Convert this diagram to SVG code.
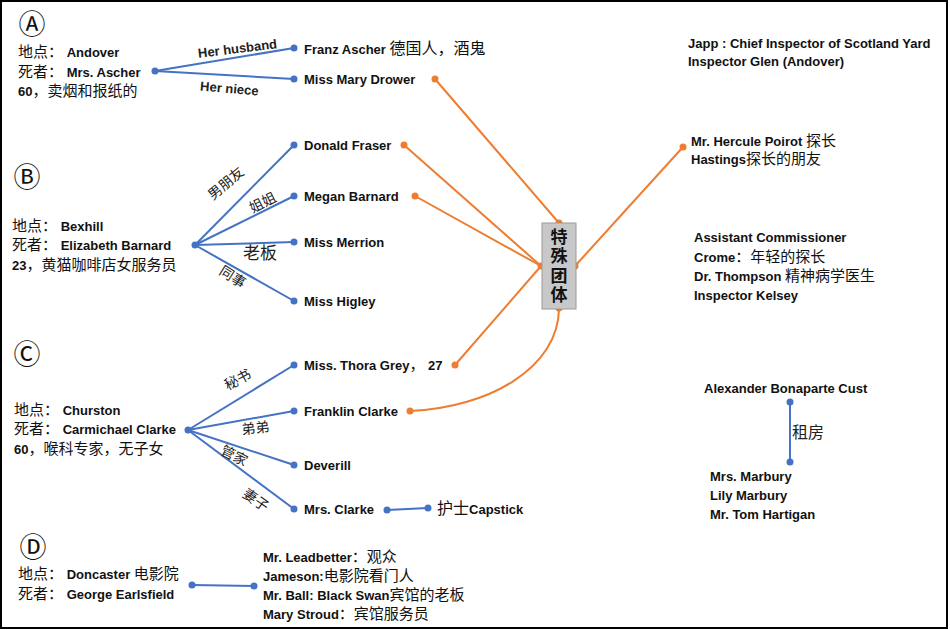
<svg xmlns="http://www.w3.org/2000/svg" width="950" height="630" viewBox="0 0 950 630">
<style>
.t{font-family:"Liberation Sans","Noto Sans CJK SC",sans-serif;font-weight:bold;font-size:13px;fill:#111}
.c{font-family:"Noto Sans CJK SC",sans-serif;font-weight:normal;font-size:15px}
.lab{font-family:"Noto Sans CJK SC",sans-serif;font-size:14px;fill:#222;text-anchor:middle}
.en{font-family:"Liberation Sans",sans-serif;font-weight:bold;font-size:13px;fill:#222;text-anchor:middle}
.circ{font-family:"Noto Sans CJK SC","DejaVu Sans",sans-serif;font-size:27px;fill:#111;text-anchor:middle}
.b{stroke:#4472C4;stroke-width:2;fill:none}
.o{stroke:#ED7D31;stroke-width:2;fill:none}
.bd{fill:#4472C4}
.od{fill:#ED7D31}
.box{fill:#C8C8C8;stroke:#9A9A9A;stroke-width:1}
.bx{font-family:"Noto Sans CJK SC",sans-serif;font-weight:bold;font-size:17px;fill:#111;writing-mode:vertical-rl;letter-spacing:2.5px}
</style>
<rect x="1" y="1" width="946" height="627" fill="#fff" stroke="#000" stroke-width="2"/>

<g id="connectors">
  <!-- A -->
  <line class="b" x1="155" y1="71" x2="294" y2="48"/>
  <line class="b" x1="155" y1="71" x2="294" y2="79"/>
  <!-- B -->
  <line class="b" x1="195" y1="245" x2="294" y2="145"/>
  <line class="b" x1="195" y1="245" x2="294" y2="196"/>
  <line class="b" x1="195" y1="245" x2="294" y2="242"/>
  <line class="b" x1="195" y1="245" x2="294" y2="301"/>
  <!-- C -->
  <line class="b" x1="188" y1="430" x2="294" y2="365"/>
  <line class="b" x1="188" y1="430" x2="294" y2="411"/>
  <line class="b" x1="188" y1="430" x2="294" y2="465"/>
  <line class="b" x1="188" y1="430" x2="294" y2="509"/>
  <line class="b" x1="387" y1="510" x2="428" y2="508"/>
  <!-- D -->
  <line class="b" x1="192" y1="585" x2="254" y2="586"/>
  <!-- Cust -->
  <line class="b" x1="790" y1="402" x2="790" y2="462"/>
  <!-- orange -->
  <line class="o" x1="435" y1="79" x2="559" y2="223"/>
  <line class="o" x1="404" y1="145" x2="541" y2="266"/>
  <line class="o" x1="415" y1="196" x2="541" y2="266"/>
  <line class="o" x1="455" y1="365" x2="541" y2="266"/>
  <path class="o" d="M410,411 C488,408 559,368 559,308"/>
  <line class="o" x1="575" y1="266" x2="683" y2="147"/>
  <!-- dots -->
  <g class="bd">
    <circle cx="155" cy="71" r="3.5"/><circle cx="294" cy="48" r="3.5"/><circle cx="294" cy="79" r="3.5"/>
    <circle cx="195" cy="245" r="3.5"/><circle cx="294" cy="145" r="3.5"/><circle cx="294" cy="196" r="3.5"/><circle cx="294" cy="242" r="3.5"/><circle cx="294" cy="301" r="3.5"/>
    <circle cx="188" cy="430" r="3.5"/><circle cx="294" cy="365" r="3.5"/><circle cx="294" cy="411" r="3.5"/><circle cx="294" cy="465" r="3.5"/><circle cx="294" cy="509" r="3.5"/>
    <circle cx="387" cy="510" r="3.5"/><circle cx="428" cy="508" r="3.5"/>
    <circle cx="192" cy="585" r="3.5"/><circle cx="254" cy="586" r="3.5"/>
    <circle cx="790" cy="402" r="3.5"/><circle cx="790" cy="462" r="3.5"/>
  </g>
  <g class="od">
    <circle cx="435" cy="79" r="3.5"/><circle cx="404" cy="145" r="3.5"/><circle cx="415" cy="196" r="3.5"/><circle cx="455" cy="365" r="3.5"/><circle cx="410" cy="411" r="3.5"/><circle cx="683" cy="147" r="3.5"/>
    <circle cx="559" cy="223" r="3.5"/><circle cx="541" cy="266" r="3.5"/><circle cx="575" cy="266" r="3.5"/><circle cx="559" cy="308" r="3.5"/>
  </g>
  <!-- edge labels -->
  <text class="en" transform="translate(238,53) rotate(-7)">Her husband</text>
  <text class="en" transform="translate(229,93) rotate(5)">Her niece</text>
  <text class="lab" transform="translate(229,187) rotate(-40)">男朋友</text>
  <text class="lab" transform="translate(265,207) rotate(-27)">姐姐</text>
  <text class="lab" style="font-size:17px" x="260" y="259">老板</text>
  <text class="lab" transform="translate(230,281) rotate(32)">同事</text>
  <text class="lab" transform="translate(240,384) rotate(-28)">秘书</text>
  <text class="lab" transform="translate(256,433) rotate(-6)">弟弟</text>
  <text class="lab" transform="translate(232,460) rotate(27)">管家</text>
  <text class="lab" transform="translate(253,504) rotate(35)">妻子</text>
  <text class="lab" style="font-size:16px;text-anchor:start" x="792" y="438">租房</text>
</g>

<g id="victimA">
  <text class="circ" x="32" y="34">Ⓐ</text>
  <text class="t" x="18" y="57"><tspan class="c">地点：</tspan> Andover</text>
  <text class="t" x="18" y="77"><tspan class="c">死者：</tspan> Mrs. Ascher</text>
  <text class="t" x="18" y="96">60<tspan class="c">，卖烟和报纸的</tspan></text>
</g>
<g id="franz"><text class="t" x="304" y="54">Franz Ascher <tspan class="c" style="font-size:16px">德国人，酒鬼</tspan></text></g>
<g id="drower"><text class="t" x="304" y="84">Miss Mary Drower</text></g>

<g id="victimB">
  <text class="circ" x="27" y="187">Ⓑ</text>
  <text class="t" x="12" y="231"><tspan class="c">地点：</tspan> Bexhill</text>
  <text class="t" x="12" y="250"><tspan class="c">死者：</tspan> Elizabeth Barnard</text>
  <text class="t" x="12" y="270">23<tspan class="c">，黄猫咖啡店女服务员</tspan></text>
</g>
<g id="fraser"><text class="t" x="304" y="150">Donald Fraser</text></g>
<g id="megan"><text class="t" x="304" y="201">Megan Barnard</text></g>
<g id="merrion"><text class="t" x="304" y="247">Miss Merrion</text></g>
<g id="higley"><text class="t" x="304" y="306">Miss Higley</text></g>

<g id="victimC">
  <text class="circ" x="27" y="364">Ⓒ</text>
  <text class="t" x="14" y="415"><tspan class="c">地点：</tspan> Churston</text>
  <text class="t" x="14" y="434"><tspan class="c">死者：</tspan> Carmichael Clarke</text>
  <text class="t" x="14" y="454">60<tspan class="c">，喉科专家，无子女</tspan></text>
</g>
<g id="thora"><text class="t" x="304" y="370">Miss. Thora Grey<tspan class="c">，</tspan> 27</text></g>
<g id="franklin"><text class="t" x="304" y="416">Franklin Clarke</text></g>
<g id="deverill"><text class="t" x="304" y="470">Deverill</text></g>
<g id="mrsclarke"><text class="t" x="304" y="514">Mrs. Clarke</text></g>
<g id="capstick"><text class="t" x="437" y="514"><tspan class="c" style="font-size:16px">护士</tspan>Capstick</text></g>

<g id="victimD">
  <text class="circ" x="33" y="557">Ⓓ</text>
  <text class="t" x="18" y="579"><tspan class="c">地点：</tspan> Doncaster <tspan class="c">电影院</tspan></text>
  <text class="t" x="18" y="599"><tspan class="c">死者：</tspan> George Earlsfield</text>
</g>
<g id="witnessesD">
  <text class="t" x="263" y="562">Mr. Leadbetter<tspan class="c">：观众</tspan></text>
  <text class="t" x="263" y="581">Jameson:<tspan class="c">电影院看门人</tspan></text>
  <text class="t" x="263" y="600">Mr. Ball: Black Swan<tspan class="c">宾馆的老板</tspan></text>
  <text class="t" x="263" y="619">Mary Stroud<tspan class="c">：宾馆服务员</tspan></text>
</g>

<g id="group">
  <rect class="box" x="542" y="223" width="34" height="86"/>
  <text class="bx" x="559" y="228">特殊团体</text>
</g>

<g id="police">
  <text class="t" x="688" y="48">Japp : Chief Inspector of Scotland Yard</text>
  <text class="t" x="688" y="66">Inspector Glen (Andover)</text>
</g>
<g id="poirot">
  <text class="t" x="691" y="146">Mr. Hercule Poirot <tspan class="c">探长</tspan></text>
  <text class="t" x="691" y="164">Hastings<tspan class="c">探长的朋友</tspan></text>
</g>
<g id="officials">
  <text class="t" x="694" y="242">Assistant Commissioner</text>
  <text class="t" x="694" y="262">Crome<tspan class="c">：年轻的探长</tspan></text>
  <text class="t" x="694" y="281">Dr. Thompson <tspan class="c">精神病学医生</tspan></text>
  <text class="t" x="694" y="300">Inspector Kelsey</text>
</g>
<g id="cust"><text class="t" x="704" y="393">Alexander Bonaparte Cust</text></g>
<g id="marbury">
  <text class="t" x="710" y="481">Mrs. Marbury</text>
  <text class="t" x="710" y="500">Lily Marbury</text>
  <text class="t" x="710" y="519">Mr. Tom Hartigan</text>
</g>
</svg>
